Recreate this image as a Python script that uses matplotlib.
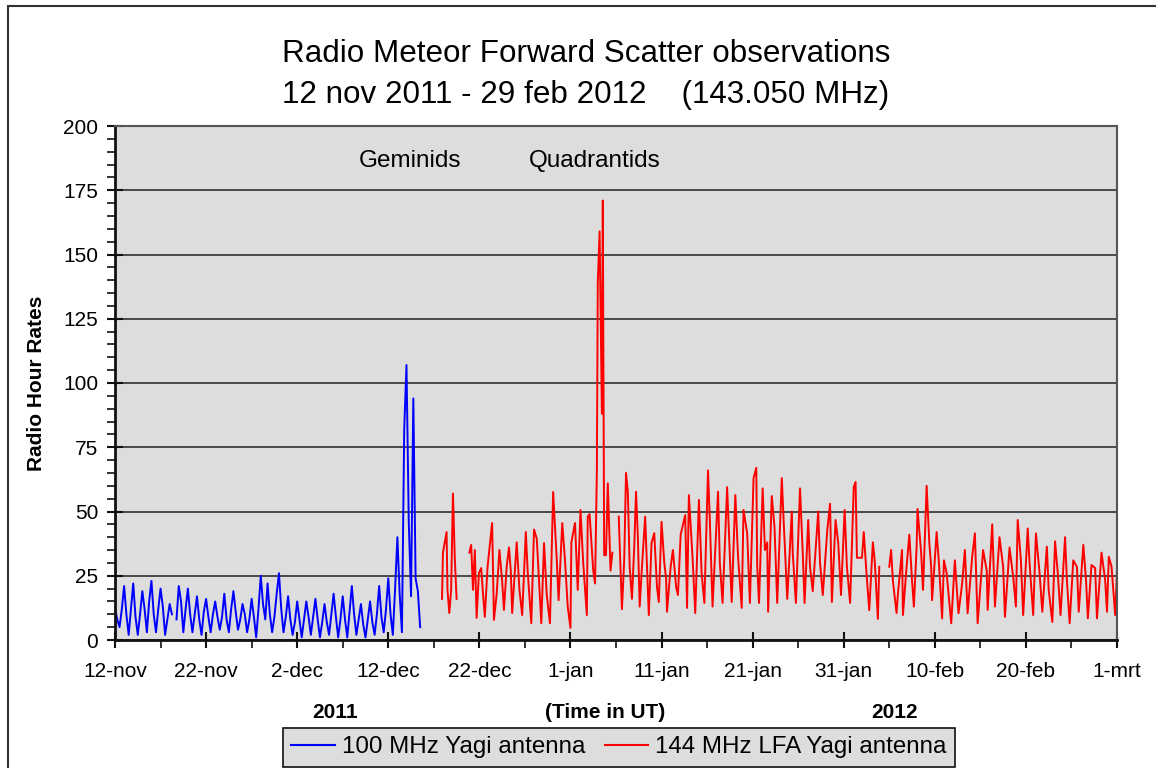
import numpy as np
import matplotlib.pyplot as plt
from matplotlib.lines import Line2D
from matplotlib.patches import Rectangle

plt.rcParams['font.family'] = ['Liberation Sans', 'DejaVu Sans']

nan = np.nan

# 100 MHz Yagi: one value every 6 hours from 12 nov 2011 00 UT
blue_val = [
    12, 8, 5, 12,    21, 10, 2, 12,   22, 9, 2, 10,    19, 12, 3, 15,
    23, 10, 3, 12,   20, 13, 2, 8,    14, 10, nan, 8,  21, 15, 3, 12,
    20, 10, 3, 10,   17, 8, 2, 11,    16, 9, 3, 10,    15, 9, 4, 9,
    18, 8, 3, 12,    19, 11, 4, 8,    14, 10, 3, 8,    16, 9, 1, 12,
    25, 14, 8, 22,   10, 3, 9, 18,    26, 12, 3, 9,    17, 8, 2, 7,
    15, 8, 1, 8,     15, 9, 2, 9,     16, 8, 1, 7,     14, 7, 2, 10,
    18, 9, 1, 8,     17, 8, 1, 11,    21, 10, 2, 8,    14, 6, 1, 8,
    15, 7, 2, 10,    21, 9, 3, 12,    24, 10, 2, 20,   40, 18, 3, 82,
    107, 46, 17, 94, 24, 19, 5, nan,
]

# 144 MHz LFA Yagi: days since 12 nov 2011 00 UT and hour rate
red_day = [
    35.9, 36.0, 36.4, 36.5, 36.7, 36.9, 37.1, 37.3, 37.5, 37.7,
    38.9, 39.1, 39.3, 39.5, 39.7, 39.95, 40.2, 40.4, 40.6, 40.9,
    41.4, 41.6, 41.9, 42.2, 42.5, 42.7, 43.0, 43.25, 43.45, 43.6,
    44.1, 44.4, 44.7, 45.1, 45.3, 45.7, 46.0, 46.3, 46.8, 47.1,
    47.4, 47.75, 48.1, 48.5, 48.7, 49.1, 49.4, 49.7, 50.0, 50.1,
    50.5, 50.8, 51.1, 51.4, 51.8, 51.9, 52.1, 52.5, 52.7, 52.9,
    53.0, 53.2, 53.45, 53.55, 53.7, 53.9, 54.1, 54.4, 54.6, 54.8,
    55.3, 55.65, 55.9, 56.1, 56.3, 56.5, 56.75, 57.0, 57.2, 57.4,
    57.6, 57.85, 58.2, 58.4, 58.6, 58.9, 59.2, 59.5, 59.7, 60.0,
    60.3, 60.5, 60.6, 61.0, 61.25, 61.6, 61.8, 62.1, 62.6, 62.8,
    63.0, 63.4, 63.7, 64.1, 64.4, 64.7, 65.1, 65.3, 65.6, 66.2,
    66.4, 66.7, 67.2, 67.4, 67.7, 68.1, 68.4, 68.8, 69.0, 69.4,
    69.7, 70.1, 70.4, 70.5, 70.7, 71.1, 71.35, 71.6, 71.7, 72.1,
    72.4, 72.7, 73.2, 73.4, 73.8, 74.3, 74.4, 74.75, 75.2, 75.5,
    75.7, 76.1, 76.3, 76.6, 77.2, 77.4, 77.7, 78.2, 78.5, 78.7,
    79.1, 79.4, 79.7, 80.1, 80.35, 80.7, 81.1, 81.3, 81.45, 82.0,
    82.2, 82.5, 82.8, 83.2, 83.4, 83.75, 83.9, 84.4, 85.0, 85.2,
    85.4, 85.8, 85.95, 86.4, 86.5, 86.9, 87.2, 87.5, 87.7, 88.0,
    88.1, 88.5, 88.7, 88.9, 89.1, 89.4, 89.6, 89.7, 90.2, 90.45,
    90.8, 91.0, 91.3, 91.8, 92.2, 92.6, 93.0, 93.3, 93.6, 94.1,
    94.4, 94.7, 95.3, 95.7, 95.8, 96.3, 96.6, 97.1, 97.5, 97.7,
    98.2, 98.6, 98.9, 99.1, 99.45, 99.7, 100.2, 100.4, 100.8, 101.1,
    101.5, 101.8, 102.3, 102.5, 102.9, 103.2, 103.5, 103.8, 104.3, 104.5,
    104.8, 105.2, 105.6, 105.8, 106.3, 106.6, 106.8, 107.2, 107.6, 107.8,
    108.3, 108.7, 108.9, 109.1, 109.4, 109.8, 110.0,
]
red_val = [
    16, 34, 42, 19.5, 10.5, 19.5, 57, 32, 16, nan,
    34, 37, 19.5, 35, 8.6, 26, 28, 18, 9, 28.5,
    45.5, 7.8, 18, 35, 23, 11.7, 28.5, 36, 27, 10.5,
    38, 19.5, 9.7, 42, 27, 6.5, 43, 39.5, 6.5, 37.7,
    17.5, 6.5, 57.6, 31, 15.5, 45.5, 31, 13, 4.7, 38,
    45.5, 19.5, 50.6, 30, 9.7, 48, 49, 27, 22, 66,
    139, 159, 88, 171, 33, 33, 61, 27, 34, nan,
    48, 12, 31, 65, 57.7, 28.5, 16, 36, 57.7, 40,
    13, 28.5, 48, 28.5, 9.7, 37.7, 41.6, 20.6, 14.8, 46,
    30, 24, 11, 28.5, 35, 20.6, 17.5, 41, 48.6, 12.5,
    56.4, 32.3, 10.5, 54.5, 26, 14.4, 66, 46.7, 13, 57.7,
    30, 14.4, 59.5, 41.6, 14.8, 56.4, 32.3, 12.5, 50.6, 41.6,
    14.4, 63, 67, 29, 14.4, 59, 35, 38, 11, 56,
    44, 14.4, 63, 46.7, 16, 50, 34, 14.4, 59, 34,
    14.4, 46.7, 28.5, 19, 50, 30, 17.5, 43, 53, 14.8,
    46.7, 37.7, 17.5, 50.6, 28.5, 14.4, 59.5, 61.5, 32, 32,
    42, 26, 11.6, 38, 31, 8.2, 28.5, nan, 28.5, 35,
    23, 10.5, 18, 35, 9.7, 28.5, 41, 23, 13, 36,
    51, 34, 19.5, 39, 60, 37.6, 28.5, 15.5, 42, 30,
    8.4, 31, 26, 6.5, 31, 10.4, 22, 35, 10.4, 32.4,
    41.5, 6.5, 35, 27, 11.7, 45, 13, 40, 28.5, 9,
    36, 24.6, 13, 46.7, 31, 9.7, 43.4, 30, 9.7, 41.5,
    26, 11, 36.3, 19.5, 7, 38.4, 26, 9.7, 40, 23.3,
    6.5, 31, 28.5, 11, 37, 23.3, 8.4, 29.2, 28, 8.4,
    34, 23.3, 11, 32.4, 28.5, 9.7, 27,
]

tick_days = np.arange(0, 111, 10)
tick_labels = ['12-nov', '22-nov', '2-dec', '12-dec', '22-dec', '1-jan',
               '11-jan', '21-jan', '31-jan', '10-feb', '20-feb', '1-mrt']

blue_day = np.arange(len(blue_val)) * 0.25

fig = plt.figure(figsize=(11.56, 7.68), dpi=100)
ax = fig.add_axes([115 / 1156, 128 / 768, 1002 / 1156, 514 / 768])
ax.set_facecolor('#DDDDDD')

ax.plot(blue_day, blue_val, color='#0000FF', lw=1.4)
ax.plot(red_day, red_val, color='#FF0000', lw=1.4)

ax.set_xlim(0, 110)
ax.set_ylim(0, 200)
ax.set_xticks(tick_days)
ax.set_xticklabels(tick_labels)
ax.set_xticks(np.arange(0, 111, 5), minor=True)
ax.set_yticks(np.arange(0, 201, 25))
ax.set_yticks(np.arange(0, 201, 5), minor=True)
ax.grid(axis='y', which='major', color='#222222', lw=1.1)
ax.set_axisbelow(True)

ax.tick_params(which='major', direction='inout', length=12, width=1.5,
               labelsize=15, color='#111111')
ax.tick_params(axis='x', which='major', pad=10)
ax.tick_params(axis='y', which='major', pad=6)
ax.tick_params(which='minor', direction='out', length=6, width=1.2, color='#111111')

for s in ['bottom', 'left']:
    ax.spines[s].set_linewidth(2)
    ax.spines[s].set_color('#111111')
for s in ['top', 'right']:
    ax.spines[s].set_linewidth(1.5)
    ax.spines[s].set_color('#555555')

ax.text(32.4, 184, 'Geminids', ha='center', va='baseline', size=17.5)
ax.text(52.7, 184, 'Quadrantids', ha='center', va='baseline', size=17.5)

fig.text(0.507, 1 - 62 / 768, 'Radio Meteor Forward Scatter observations',
         ha='center', va='baseline', size=22.6)
fig.text(0.507, 1 - 103 / 768, '12 nov 2011 - 29 feb 2012    (143.050 MHz)',
         ha='center', va='baseline', size=22.6)

fig.text(37 / 1156, 1 - 383 / 768, 'Radio Hour Rates', rotation=90,
         ha='center', va='center', size=15, weight='bold')
fig.text(335 / 1156, 1 - 712 / 768, '2011', ha='center', va='center',
         size=15, weight='bold')
fig.text(605 / 1156, 1 - 712 / 768, '(Time in UT)', ha='center', va='center',
         size=15, weight='bold')
fig.text(895 / 1156, 1 - 712 / 768, '2012', ha='center', va='center',
         size=15, weight='bold')

handles = [Line2D([], [], color='#0000FF', lw=1.5),
           Line2D([], [], color='#FF0000', lw=1.5)]
leg = fig.legend(handles, ['100 MHz Yagi antenna', '144 MHz LFA Yagi antenna'],
                 loc='upper center', bbox_to_anchor=(619 / 1156, 1 - 728 / 768),
                 ncol=2, fancybox=False, edgecolor='#111111', facecolor='#DDDDDD',
                 framealpha=1, fontsize=17.4, handlelength=1.8, handletextpad=0.3,
                 columnspacing=0.8, borderpad=0.35, borderaxespad=0)
leg.get_frame().set_linewidth(1.2)

fig.add_artist(Rectangle((8 / 1156, -0.05), 1.2, 1.05 - 6 / 768,
                         transform=fig.transFigure, fill=False,
                         edgecolor='#333333', lw=1.5))

fig.savefig('out.png', dpi=100)
